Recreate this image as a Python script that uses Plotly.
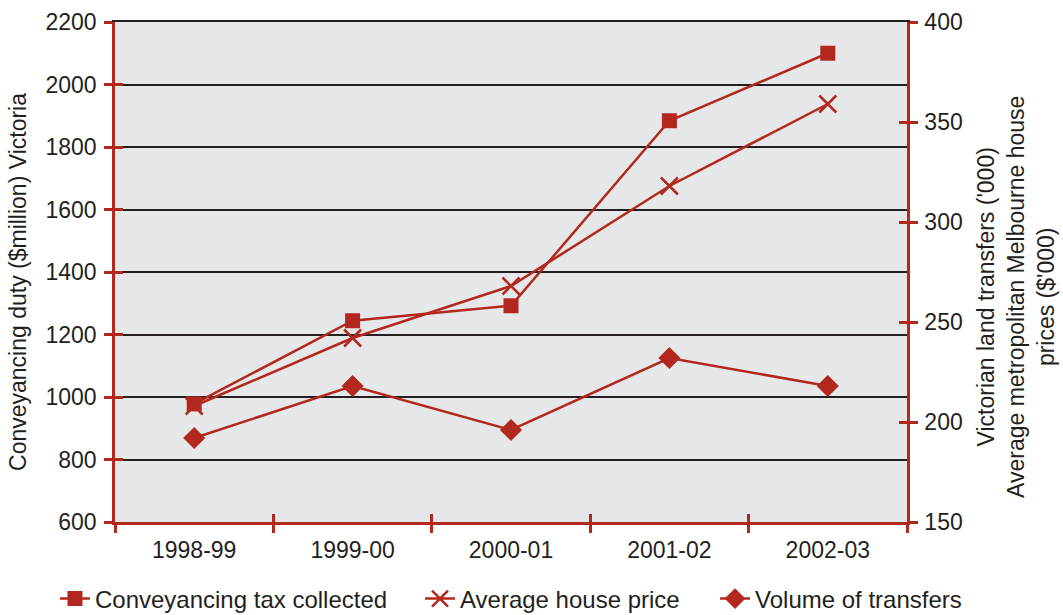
import plotly.graph_objects as go

categories = ["1998-99", "1999-00", "2000-01", "2001-02", "2002-03"]
tax_collected = [978, 1244, 1292, 1884, 2100]
house_price = [208, 242, 268, 318, 359]
volume_transfers = [192, 218, 196, 232, 218]

RED = "#b3281e"
TXT = "#231f20"
FONT = "Liberation Sans, Arial, Helvetica, sans-serif"

fig = go.Figure()
fig.add_trace(go.Scatter(
    x=categories, y=tax_collected, name="Conveyancing tax collected",
    mode="lines+markers", line=dict(color=RED, width=2.5),
    marker=dict(symbol="square", size=15, color=RED),
    xaxis="x", yaxis="y", legend="legend"))
fig.add_trace(go.Scatter(
    x=categories, y=house_price, name="Average house price",
    mode="lines+markers", line=dict(color=RED, width=2.5),
    marker=dict(symbol="x-thin", size=17, color=RED, line=dict(color=RED, width=2.5)),
    xaxis="x", yaxis="y2", legend="legend2"))
fig.add_trace(go.Scatter(
    x=categories, y=volume_transfers, name="Volume of transfers",
    mode="lines+markers", line=dict(color=RED, width=2.5),
    marker=dict(symbol="diamond", size=17, color=RED),
    xaxis="x", yaxis="y2", legend="legend3"))
# helper traces so the overlay axes (crossing ticks, top border) are drawn
fig.add_trace(go.Scatter(x=categories, y=[None] * 5, xaxis="x2", yaxis="y3",
                         showlegend=False, hoverinfo="skip"))
fig.add_trace(go.Scatter(x=categories, y=[None] * 5, xaxis="x2", yaxis="y4",
                         showlegend=False, hoverinfo="skip"))
fig.add_trace(go.Scatter(x=categories, y=[None] * 5, xaxis="x3", yaxis="y3",
                         showlegend=False, hoverinfo="skip"))

tick_common = dict(tickcolor=RED, tickwidth=2.5, ticklen=8)
leg_common = dict(orientation="h", y=-0.154, yanchor="middle", xanchor="left",
                  font=dict(size=24, color=TXT), bgcolor="rgba(0,0,0,0)")

fig.update_layout(
    width=1063, height=615,
    margin=dict(l=115, r=156, t=22, b=93, autoexpand=False),
    paper_bgcolor="white", plot_bgcolor="#e6e7e9",
    font=dict(family=FONT, size=23, color=TXT),
    showlegend=True,
    legend=dict(x=-0.0758, **leg_common),
    legend2=dict(x=0.3851, **leg_common),
    legend3=dict(x=0.7576, **leg_common),
    xaxis=dict(type="category", range=[-0.5, 4.5], tickson="boundaries",
               ticks="outside", showline=True, linecolor=RED, linewidth=2.5,
               showgrid=False, zeroline=False, tickfont=dict(size=23, color=TXT),
               ticklabelstandoff=6, anchor="y", **tick_common),
    yaxis=dict(range=[600, 2200], tick0=600, dtick=200, ticks="outside",
               showline=True, linecolor=RED, linewidth=2.5,
               showgrid=True, gridcolor=TXT, gridwidth=2, zeroline=False,
               ticklabelstandoff=3,
               tickfont=dict(size=23, color=TXT), **tick_common),
    yaxis2=dict(range=[150, 400], tick0=150, dtick=50, ticks="outside",
                overlaying="y", side="right", anchor="x",
                showline=True, linecolor=RED, linewidth=2.5,
                showgrid=False, zeroline=False, ticklabelstandoff=2,
                tickfont=dict(size=23, color=TXT), **tick_common),
    xaxis2=dict(type="category", range=[-0.5, 4.5], tickson="boundaries",
                overlaying="x", anchor="y3", ticks="inside", showticklabels=False,
                showline=False, showgrid=False, zeroline=False, **tick_common),
    xaxis3=dict(type="category", range=[-0.5, 4.5], overlaying="x", anchor="y3",
                side="top", ticks="", showticklabels=False,
                showline=True, linecolor=TXT, linewidth=2,
                showgrid=False, zeroline=False),
    yaxis3=dict(range=[600, 2200], tick0=600, dtick=200, overlaying="y",
                anchor="x2", side="left", ticks="inside", showticklabels=False,
                showline=False, showgrid=False, zeroline=False, **tick_common),
    yaxis4=dict(range=[150, 400], tick0=150, dtick=50, overlaying="y",
                anchor="x2", side="right", ticks="inside", showticklabels=False,
                showline=False, showgrid=False, zeroline=False, **tick_common),
    annotations=[
        dict(text="Conveyancing duty ($million) Victoria", textangle=-90,
             xref="paper", yref="paper", x=-0.1225, y=0.48,
             xanchor="center", yanchor="middle", showarrow=False,
             font=dict(size=23, color=TXT)),
        dict(text="Victorian land transfers ('000)<br>Average metropolitan Melbourne house<br>prices ($'000)",
             textangle=-90, xref="paper", yref="paper", x=1.1376, y=0.45,
             xanchor="center", yanchor="middle", showarrow=False, align="center",
             font=dict(size=23, color=TXT)),
    ],
)

fig.write_html("out.html")
